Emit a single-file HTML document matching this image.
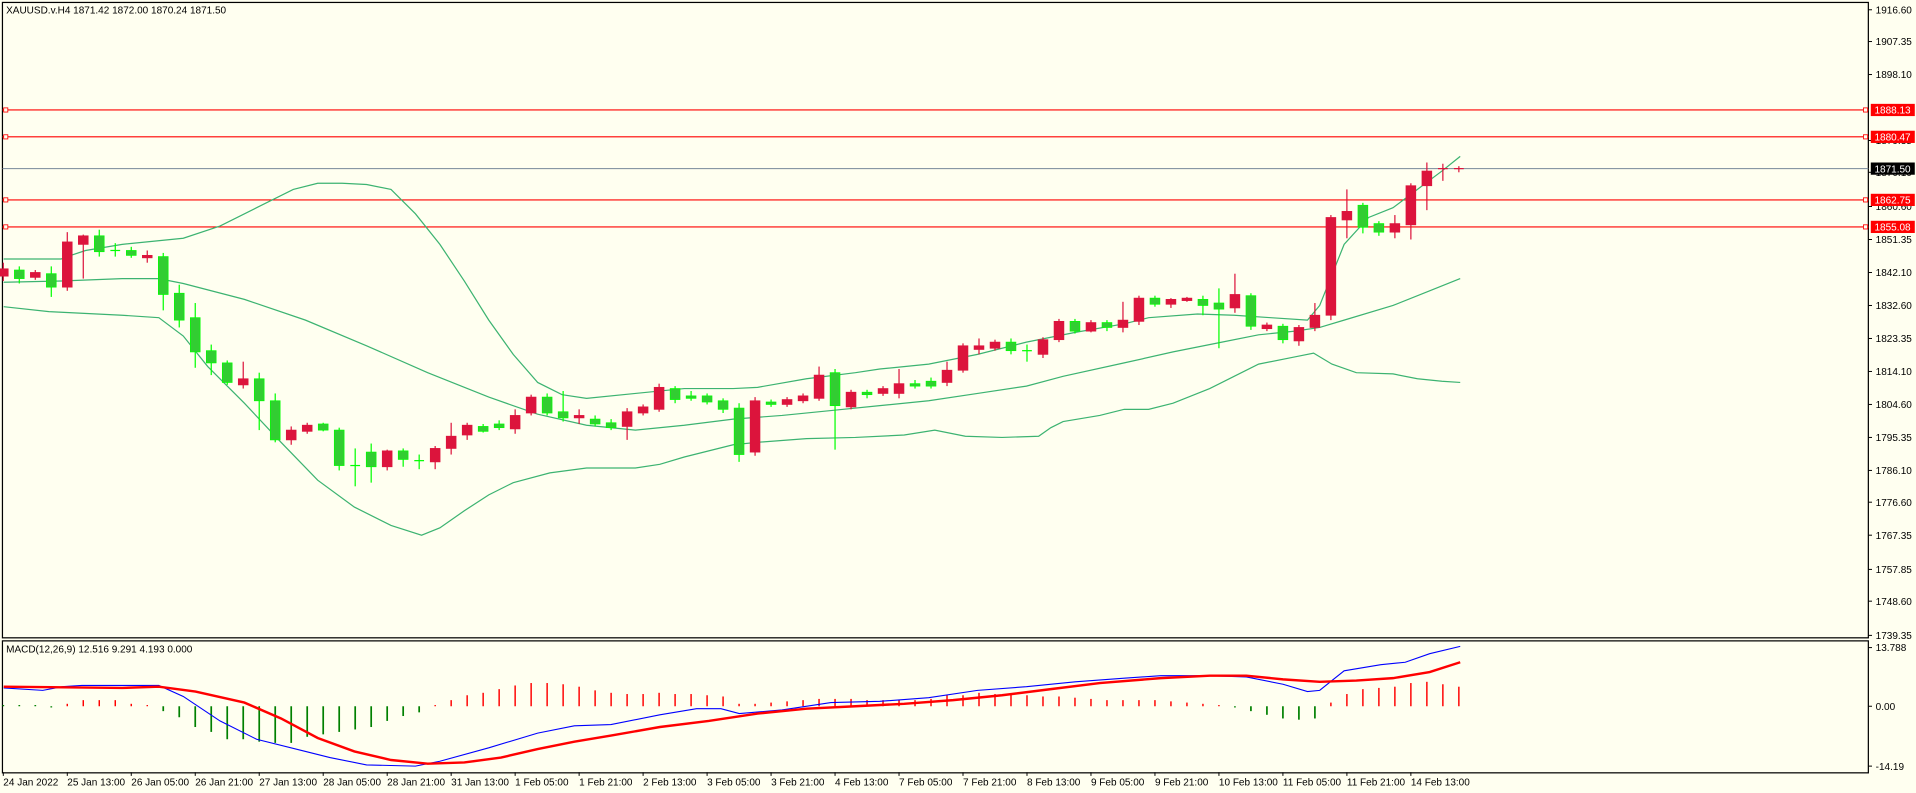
<!DOCTYPE html>
<html><head><meta charset="utf-8">
<style>
html,body{margin:0;padding:0;background:#fff;overflow:hidden}
svg{display:block}
text{font-family:"Liberation Sans",sans-serif;font-size:8.2px;fill:#000}
</style></head>
<body>
<svg id="s" width="1916" height="793" viewBox="0 0 1568 649" preserveAspectRatio="none" xmlns="http://www.w3.org/2000/svg">
<rect x="0" y="0" width="1568" height="649" fill="#FFFFF0"/>
<g id="main"></g>
</svg>
<script>
const NS="http://www.w3.org/2000/svg";
const g=document.getElementById('main');
function el(t,a,txt){const e=document.createElementNS(NS,t);for(const k in a)e.setAttribute(k,a[k]);if(txt!==undefined)e.textContent=txt;g.appendChild(e);return e;}
const X=i=>2.7+13.09*i;
// frames
el('rect',{x:2,y:2,width:1527,height:520,fill:'none',stroke:'#000','stroke-width':1});
el('rect',{x:2,y:524.5,width:1527,height:108,fill:'none',stroke:'#000','stroke-width':1});
// horizontal lines
[[90,'#FF0000'],[112,'#FF0000'],[163.6,'#FF0000'],[185.7,'#FF0000']].forEach(l=>{
 el('line',{x1:2,x2:1529,y1:l[0],y2:l[0],stroke:l[1],'stroke-width':0.9});
 el('rect',{x:3,y:l[0]-1.7,width:3.4,height:3.4,fill:'#FFFFF0',stroke:'#f00','stroke-width':0.7});
 el('rect',{x:1525,y:l[0]-1.7,width:3.4,height:3.4,fill:'#FFFFF0',stroke:'#f00','stroke-width':0.7});
});
el('line',{x1:2,x2:1529,y1:138,y2:138,stroke:'#778899','stroke-width':0.9});
// bands
const up=[[3,212],[50,212],[55,210],[70,205],[100,200],[150,195],[180,185],[210,170],[240,155],[260,150],[280,150],[300,151],[320,155],[340,175],[360,200],[380,230],[400,262],[420,290],[440,313],[460,323],[480,326],[520,322],[560,318],[600,318],[620,317],[660,310],[700,305],[720,302],[760,298],[800,290],[840,280],[880,272],[920,265],[940,260],[980,257],[1010,258],[1040,260],[1070,262],[1080,250],[1090,225],[1100,200],[1120,178],[1140,170],[1160,155],[1180,140],[1195,128]];
const md=[[3,231],[50,230],[100,228],[130,228],[150,232],[200,245],[250,262],[300,283],[350,305],[400,325],[440,339],[480,348],[520,352],[560,348],[600,343],[640,340],[680,336],[720,332],[760,328],[800,322],[840,316],[870,308],[920,297],[960,288],[1000,280],[1030,274],[1060,271],[1080,268],[1100,262],[1140,250],[1170,238],[1195,228]];
const lo=[[3,251],[40,255],[100,258],[130,260],[150,275],[170,300],[200,330],[230,362],[260,393],[290,415],[320,430],[345,438],[360,432],[380,418],[400,405],[420,395],[450,387],[480,383],[520,383],[540,380],[560,374],[580,369],[600,364],[620,362],[660,359],[700,358],[740,356],[765,352],[790,357],[820,358],[850,357],[860,350],[870,345],[900,340],[920,335],[940,335],[960,330],[990,318],[1010,308],[1030,298],[1060,292],[1075,289],[1090,298],[1110,305],[1140,306],[1160,310],[1180,312],[1195,313]];
[up,md,lo].forEach(p=>el('polyline',{points:p.map(a=>a.join(',')).join(' '),fill:'none',stroke:'#3CB371','stroke-width':1}));
// candles [color, bodyTop, bodyBot, wickTop, wickBot]
const C=[
['r',220,226,215,230],['g',221,228,218,232],['r',223,227,221,229],['g',224,235,218,243],['r',198,235,190,238],['r',193,200,192,228],['g',193,206,188,210],['g',205,205,199,210],['g',205,209,202,211],['r',209,211,205,215],
['g',210,241,207,254],['g',240,262,233,268],['g',260,288,248,301],['g',287,297,282,307],['g',297,313,295,315],['r',310,315,296,318],['g',310,328,305,352],['g',328,360,322,362],['r',352,360,349,364],['r',348,353,346,355],
['g',347,352,346,353],['g',352,381,350,385],['g',381,381,367,398],['g',370,382,363,395],['r',369,382,368,385],['g',369,376,367,382],['g',377,377,372,384],['r',367,378,365,384],['r',357,367,346,372],['r',348,356,346,360],
['g',349,353,347,354],['g',347,350,344,352],['r',340,351,335,355],['r',325,338,323,340],['g',325,338,322,340],['g',337,342,320,345],['r',340,342,335,347],['g',343,347,340,349],['g',346,350,343,352],['r',337,349,334,360],
['r',333,338,331,340],['r',317,335,314,337],['g',318,327,316,330],['g',324,326,320,328],['g',324,329,322,331],['g',328,335,326,338],['g',334,372,330,378],['r',328,370,325,373],['g',329,331,327,333],['r',327,331,325,333],
['r',324,328,322,330],['r',307,326,300,328],['g',305,332,302,368],['r',321,333,319,335],['g',321,323,319,326],['r',318,322,316,324],['r',314,322,302,326],['g',314,316,311,318],['g',312,316,309,318],['r',303,313,296,316],
['r',283,303,281,305],['r',283,286,277,290],['r',280,285,278,287],['g',280,287,277,290],['g',287,287,282,296],['r',278,290,276,293],['r',263,278,261,280],['g',263,271,261,273],['r',264,271,262,272],['g',264,268,262,271],
['r',262,268,247,272],['r',244,263,242,266],['g',244,249,242,251],['r',245,249,244,252],['r',244,246,243,247],['g',245,250,242,258],['g',248,253,236,285],['r',241,252,224,256],['g',242,267,240,270],['r',266,269,264,271],
['g',267,278,265,281],['r',268,279,266,283],['r',258,268,248,271],['r',178,258,176,262],['r',173,180,155,195],['g',168,186,166,191],['g',183,190,181,193],['r',183,190,176,195],['r',152,184,150,196],['r',140,152,133,172],
['r',138,138,134,148],['r',138,138,136,141]];
C.forEach((c,i)=>{const x=X(i);const col=c[0]=='r'?'#DC143C':'#32CD32';const wc=c[0]=='r'?'#DC143C':'#00FF00';
 el('line',{x1:x,x2:x,y1:c[3],y2:c[4],stroke:wc,'stroke-width':1});
 const h=Math.max(c[2]-c[1],0);
 if(h<1.5) el('line',{x1:x-4,x2:x+4,y1:c[1],y2:c[1],stroke:wc,'stroke-width':1});
 else el('rect',{x:x-4,y:c[1],width:8,height:h,fill:col,stroke:wc,'stroke-width':0.6});
});
// MACD histogram (display px, positive up)
const H=[1,1,1,-1,2,5,5,5,2,1,-4,-9,-17,-21,-27,-27,-29,-30,-30,-25,-23,-21,-19,-17,-12,-8,-5,0.5,5,9,11,14,17,19,19,18,16,13,11,10,10,11,10,10,9,8,2,2,3,4,5,6,6,6,5,5,5,5,6,9,
9,11,10,10,9,8,8,7,6,5,5,5,5,4,3,2,0.5,-0.5,-4,-7,-10,-11,-10,3,10,14,15,16,19,20,18,16];
H.forEach((h,i)=>{const x=X(i);const green=(i<4)||h<0;
 el('line',{x1:x,x2:x,y1:578,y2:578-(Math.abs(h)<1?1*Math.sign(h||1):h),stroke:green?'#008000':'#FF0000','stroke-width':green?1.4:1.2});});
const sig=[[3,562],[100,563],[130,562],[160,566],[200,575],[230,588],[260,604],[290,615],[320,622],[350,625],[380,624],[410,620],[440,613],[470,607],[500,602],[540,595],[580,590],[620,584],[660,580],[700,578],[740,576],[780,573],[820,569],[860,564],[900,559],[950,555],[990,553],[1020,553],[1050,556],[1080,558],[1110,557],[1140,555],[1170,550],[1195,542]];
const mac=[[3,563],[35,565],[51,562],[67,561],[130,561],[150,570],[180,590],[210,605],[250,615],[270,620],[300,626],[340,627],[360,623],[400,612],[440,600],[470,594],[500,593],[540,585],[570,580],[590,580],[605,584],[640,581],[680,575],[720,574],[760,571],[800,565],[840,562],[880,558],[920,555],[950,553],[990,553],[1020,554],[1050,560],[1070,566],[1080,565],[1100,549],[1130,544],[1150,542],[1170,535],[1195,529]];
el('polyline',{points:mac.map(a=>a.join(',')).join(' '),fill:'none',stroke:'#0000FF','stroke-width':0.9});
el('polyline',{points:sig.map(a=>a.join(',')).join(' '),fill:'none',stroke:'#FF0000','stroke-width':2});
// price axis
const PT=[['1916.60',8],['1907.35',34],['1898.10',61],['1879.35',115],['1870.10',141],['1860.60',169],['1851.35',196],['1842.10',223],['1832.60',250],['1823.35',277],['1814.10',304],['1804.60',331],['1795.35',358],['1786.10',385],['1776.60',411],['1767.35',438],['1757.85',466],['1748.60',492],['1739.35',520]];
PT.forEach(p=>{el('line',{x1:1529,x2:1532,y1:p[1],y2:p[1],stroke:'#000','stroke-width':0.8});el('text',{x:1535,y:p[1]+3},p[0]);});
[['1888.13',90,'#FF0000','#fff'],['1880.47',112,'#FF0000','#fff'],['1871.50',138,'#000','#fff'],['1862.75',163.6,'#FF0000','#fff'],['1855.08',185.7,'#FF0000','#fff']].forEach(p=>{
 el('rect',{x:1531,y:p[1]-5,width:36,height:10,fill:p[2]});el('text',{x:1534,y:p[1]+3,style:'fill:'+p[3]},p[0]);});
// macd axis
[['13.788',530],['0.00',578],['-14.19',627]].forEach(p=>{el('line',{x1:1529,x2:1532,y1:p[1],y2:p[1],stroke:'#000','stroke-width':0.8});el('text',{x:1535,y:p[1]+3},p[0]);});
// time axis
const TL=['24 Jan 2022','25 Jan 13:00','26 Jan 05:00','26 Jan 21:00','27 Jan 13:00','28 Jan 05:00','28 Jan 21:00','31 Jan 13:00','1 Feb 05:00','1 Feb 21:00','2 Feb 13:00','3 Feb 05:00','3 Feb 21:00','4 Feb 13:00','7 Feb 05:00','7 Feb 21:00','8 Feb 13:00','9 Feb 05:00','9 Feb 21:00','10 Feb 13:00','11 Feb 05:00','11 Feb 21:00','14 Feb 13:00'];
TL.forEach((t,k)=>{const x=2.7+52.36*k;el('line',{x1:x,x2:x,y1:632,y2:635,stroke:'#000','stroke-width':0.8});el('text',{x:x,y:643},t);});
el('text',{x:5,y:11},'XAUUSD.v.H4  1871.42 1872.00 1870.24 1871.50');
el('text',{x:5,y:534},'MACD(12,26,9) 12.516 9.291 4.193 0.000');
</script>
</body></html>
